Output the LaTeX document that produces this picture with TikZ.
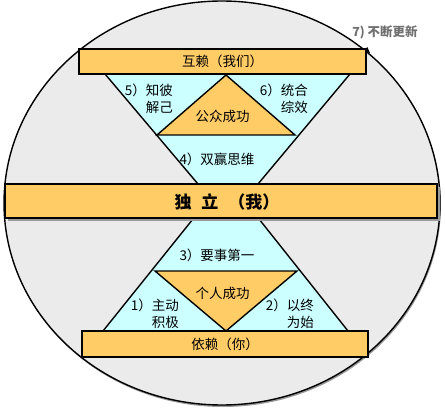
\documentclass[tikz,border=0pt]{standalone}
\usepackage{fontspec}
\setmainfont{Noto Sans CJK SC}
\definecolor{barorange}{HTML}{FFCC66}
\definecolor{hgcyan}{HTML}{CCFFFF}
\definecolor{ringgray}{HTML}{EBEBEB}
\definecolor{shadowgray}{HTML}{9A9A9A}
\definecolor{notegray}{HTML}{707070}
\begin{document}
\begin{tikzpicture}[x=1pt,y=-1pt,
  bar/.style={draw=black, line width=1.6pt, fill=barorange, inner sep=0pt,
    font=\fontsize{13.5}{16}\selectfont},
  lbl/.style={inner sep=0pt, font=\fontsize{13.5}{17}\selectfont},
  shapeline/.style={draw=black, line width=1.4pt, line join=miter}]
\useasboundingbox (0,0) rectangle (445,409);
% ring
\fill[shadowgray] (223,205) ellipse [x radius=218, y radius=202];
\draw[fill=ringgray, line width=1.4pt] (222,203) ellipse [x radius=218, y radius=202];
\fill (370,53) -- (363.5,51.5) -- (367.3,46.9) -- cycle;
% hourglass
\draw[shapeline, fill=hgcyan] (105,74) -- (350,74) -- (258,184) -- (259,219)
  -- (348,331) -- (103,331) -- (193,219) -- (198,184) -- cycle;
% triangles
\draw[shapeline, fill=barorange] (226,75) -- (295,135) -- (157,135) -- cycle;
\draw[shapeline, fill=barorange] (155,271) -- (297,271) -- (226,331) -- cycle;
% bars
\node[bar, minimum width=287pt, minimum height=25pt] (inter) at (222.5,61.5) {互赖（我们）};
\fill[shadowgray] (8,187) rectangle (440,221.5);
\node[bar, minimum width=432pt, minimum height=34pt] (indepbar) at (221,201) {};
\node[inner sep=0pt, font=\fontsize{17}{20}\selectfont\bfseries] (indep) at (227,201.5)
  {独\hspace{10pt}立\hspace{10pt}（我）};
\node[bar, minimum width=286pt, minimum height=26pt] (dep) at (225,344) {依赖（你）};
% labels
\node[lbl, align=right, anchor=east] (l5) at (173,98.5) {5）知彼\\解己};
\node[lbl, align=right, anchor=east] (l6) at (308,98.5) {6）统合\\综效};
\node[lbl] (pub) at (222.5,116) {公众成功};
\node[lbl] (l4) at (217,159) {4）双赢思维};
\node[lbl] (l3) at (217,255) {3）要事第一};
\node[lbl] (priv) at (222.5,293) {个人成功};
\node[lbl, align=right, anchor=east] (l1) at (179,313.5) {1）主动\\积极};
\node[lbl, align=right, anchor=east] (l2) at (314,313.5) {2）以终\\为始};
\node[inner sep=0pt, text=notegray, font=\fontsize{12.5}{15}\selectfont\bfseries] (l7) at (385,32) {7) 不断更新};
\end{tikzpicture}
\end{document}
